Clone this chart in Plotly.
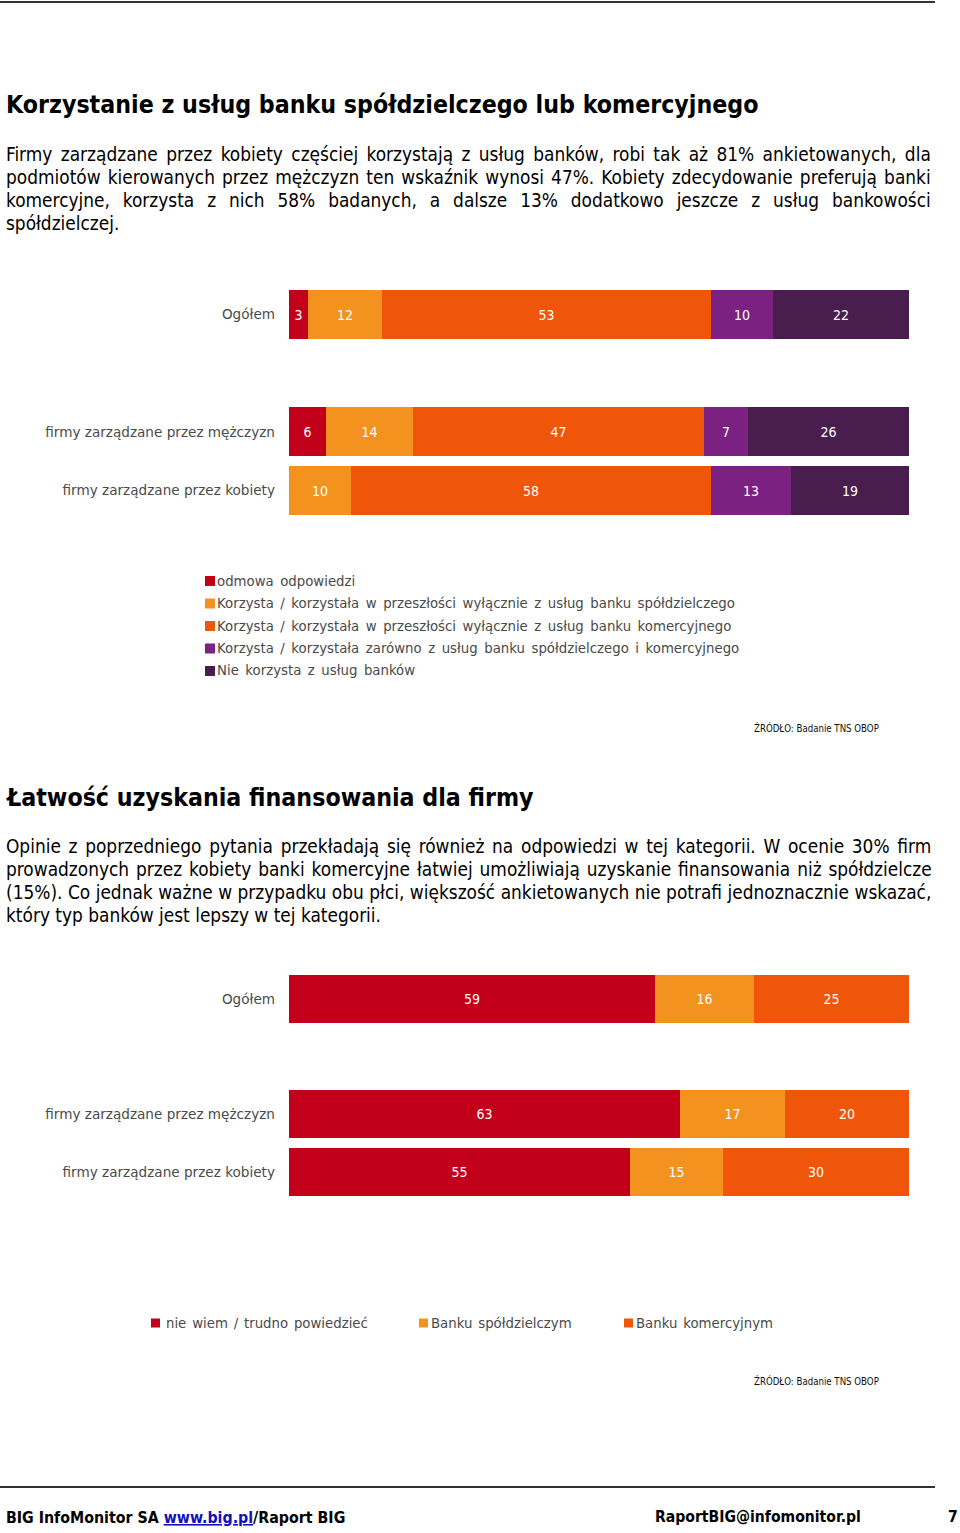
import plotly.graph_objects as go

W, H = 960, 1533

# ---------------- data ----------------
cats = ["Ogółem", "firmy zarządzane przez mężczyzn", "firmy zarządzane przez kobiety"]
cat_order = ["firmy zarządzane przez kobiety", "firmy zarządzane przez mężczyzn", " ", "Ogółem"]

c1_names = [
    "odmowa odpowiedzi",
    "Korzysta / korzystała w przeszłości wyłącznie z usług banku spółdzielczego",
    "Korzysta / korzystała w przeszłości wyłącznie z usług banku komercyjnego",
    "Korzysta / korzystała zarówno z usług banku spółdzielczego i komercyjnego",
    "Nie korzysta z usług banków",
]
c1_odmowa = [3, 6, 0]
c1_spoldz = [12, 14, 10]
c1_komerc = [53, 47, 58]
c1_oba = [10, 7, 13]
c1_nie = [22, 26, 19]

c2_names = ["nie wiem / trudno powiedzieć", "Banku spółdzielczym", "Banku komercyjnym"]
c2_niewiem = [59, 63, 55]
c2_spoldz = [16, 17, 15]
c2_komerc = [25, 20, 30]

colors1 = ["#C3001A", "#F4921F", "#F0560A", "#7A2181", "#4A1D4F"]
colors2 = ["#C3001A", "#F4921F", "#F0560A"]

FONT = "DejaVu Sans"
FONTC = "DejaVu Sans Condensed"
GRAY = "#4a4a4a"


def px(x):
    return x / W


def py(y):
    return 1 - y / H


fig = go.Figure()

for name, vals, col in zip(c1_names, [c1_odmowa, c1_spoldz, c1_komerc, c1_oba, c1_nie], colors1):
    fig.add_trace(go.Bar(
        y=cats, x=vals, orientation="h", name=name, marker=dict(color=col, line=dict(width=0)),
        text=[str(v) if v else "" for v in vals], textposition="inside", insidetextanchor="middle",
        textangle=0, textfont=dict(color="white", size=14, family=FONTC),
        width=0.83, xaxis="x", yaxis="y", showlegend=False, hoverinfo="skip",
    ))

for name, vals, col in zip(c2_names, [c2_niewiem, c2_spoldz, c2_komerc], colors2):
    fig.add_trace(go.Bar(
        y=cats, x=vals, orientation="h", name=name, marker=dict(color=col, line=dict(width=0)),
        text=[str(v) if v else "" for v in vals], textposition="inside", insidetextanchor="middle",
        textangle=0, textfont=dict(color="white", size=14, family=FONTC),
        width=0.83, xaxis="x2", yaxis="y2", showlegend=False, hoverinfo="skip",
    ))

xdom = [px(289), px(909)]
ax_common = dict(range=[0, 100], showgrid=False, zeroline=False, showticklabels=False,
                 showline=False, fixedrange=True)
y_common = dict(type="category", categoryorder="array", categoryarray=cat_order,
                showgrid=False, zeroline=False, showline=False, ticks="",
                ticklabelstandoff=13, tickfont=dict(size=13.6, color=GRAY, family=FONT),
                range=[-0.5, 3.5], fixedrange=True)

fig.update_layout(
    width=W, height=H, margin=dict(l=0, r=0, t=0, b=0),
    paper_bgcolor="white", plot_bgcolor="white",
    barmode="stack", bargap=0,
    xaxis=dict(domain=xdom, anchor="y", **ax_common),
    yaxis=dict(domain=[py(520), py(285)], anchor="x", **y_common),
    xaxis2=dict(domain=xdom, anchor="y2", **ax_common),
    yaxis2=dict(domain=[py(1201), py(970)], anchor="x2", **y_common),
    font=dict(family=FONT, color=GRAY),
)

ann = []


def text(x, y, s, size, color="#000", family=FONTC, xanchor="left", bold=False, wsp=None):
    if wsp is not None:
        s = "<span style='word-spacing:%.2fpx'>%s</span>" % (wsp, s)
    if bold:
        s = "<b>" + s + "</b>"
    ann.append(dict(x=px(x), y=py(y), xref="paper", yref="paper", text=s, showarrow=False,
                    xanchor=xanchor, yanchor="middle", align="left",
                    font=dict(size=size, color=color, family=family)))


# titles
text(4, 104, "Korzystanie z usług banku spółdzielczego lub komercyjnego", 24.7, bold=True)
text(4, 797, "Łatwość uzyskania finansowania dla firmy", 24.7, bold=True)

body1 = [
    "Firmy zarządzane przez kobiety częściej korzystają z usług banków, robi tak aż 81% ankietowanych, dla",
    "podmiotów kierowanych przez mężczyzn ten wskaźnik wynosi 47%. Kobiety zdecydowanie preferują banki",
    "komercyjne, korzysta z nich 58% badanych, a dalsze 13% dodatkowo jeszcze z usług bankowości",
    "spółdzielczej.",
]
wsp1 = [3.0, 1.7, 7.5, 0]
for i, line in enumerate(body1):
    text(4, 154 + 23 * i, line, 18.9, wsp=wsp1[i])

body2 = [
    "Opinie z poprzedniego pytania przekładają się również na odpowiedzi w tej kategorii. W ocenie 30% firm",
    "prowadzonych przez kobiety banki komercyjne łatwiej umożliwiają uzyskanie finansowania niż spółdzielcze",
    "(15%). Co jednak ważne w przypadku obu płci, większość ankietowanych nie potrafi jednoznacznie wskazać,",
    "który typ banków jest lepszy w tej kategorii.",
]
wsp2 = [2.3, 1.5, 0.1, 0]
for i, line in enumerate(body2):
    text(4, 846 + 23 * i, line, 18.9, wsp=wsp2[i])

# legend 1 (vertical)
for i, (name, col) in enumerate(zip(c1_names, colors1)):
    yy = 581 + 22.5 * i
    fig.add_shape(type="rect", xref="paper", yref="paper", x0=px(205), x1=px(215),
                  y0=py(yy + 5), y1=py(yy - 5), fillcolor=col, line=dict(width=0))
    text(215, yy, name, 13.3, color=GRAY, family=FONT, wsp=2.3)

# legend 2 (horizontal)
leg2_x = [(151, 166), (419, 431), (624, 636)]
for (sx, tx), name, col in zip(leg2_x, c2_names, colors2):
    fig.add_shape(type="rect", xref="paper", yref="paper", x0=px(sx), x1=px(sx + 9),
                  y0=py(1323 + 4.5), y1=py(1323 - 4.5), fillcolor=col, line=dict(width=0))
    text(tx - 2, 1323, name, 13.3, color=GRAY, family=FONT, wsp=1.6)

# sources
text(752, 728, "ŹRÓDŁO: Badanie TNS OBOP", 9.6, color="#111", family=FONTC)
text(752, 1381, "ŹRÓDŁO: Badanie TNS OBOP", 9.6, color="#111", family=FONTC)

# footer
text(4, 1517, "BIG InfoMonitor SA <span style='color:#1010C0;text-decoration:underline'>www.big.pl</span>/Raport BIG",
     15.8, bold=True)
text(653, 1517, "RaportBIG@infomonitor.pl", 15.6, bold=True)
text(946, 1517, "7", 15.6, bold=True)

fig.update_layout(annotations=ann)

# rules
fig.add_shape(type="line", xref="paper", yref="paper", x0=0, x1=px(935), y0=py(2), y1=py(2),
              line=dict(color="#333", width=2))
fig.add_shape(type="line", xref="paper", yref="paper", x0=0, x1=px(935), y0=py(1487), y1=py(1487),
              line=dict(color="#333", width=2))

fig.write_html("out.html")
